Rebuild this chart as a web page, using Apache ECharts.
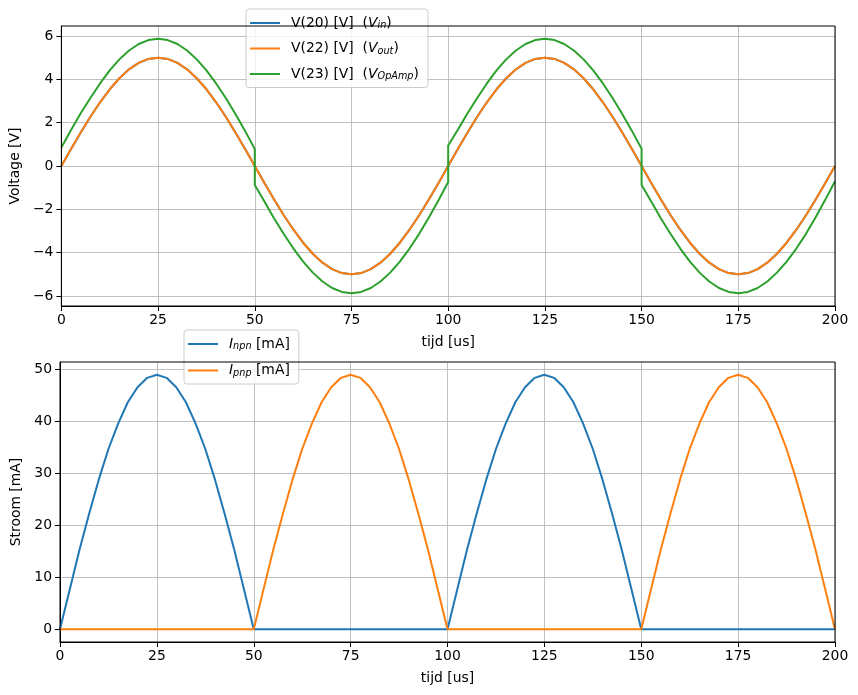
<!DOCTYPE html>
<html><head><meta charset="utf-8">
<script src="https://cdn.jsdelivr.net/npm/echarts@6/dist/echarts.min.js"></script>
<style>html,body{margin:0;padding:0;background:#fff}#c{width:858px;height:695px}</style>
</head><body><div id="c"></div>
<script>
// time axis [us]
var t = [0,2.5,5,7.5,10,12.5,15,17.5,20,22.5,25,27.5,30,32.5,35,37.5,40,42.5,45,47.5,50,
  52.5,55,57.5,60,62.5,65,67.5,70,72.5,75,77.5,80,82.5,85,87.5,90,92.5,95,97.5,100,
  102.5,105,107.5,110,112.5,115,117.5,120,122.5,125,127.5,130,132.5,135,137.5,140,142.5,145,147.5,150,
  152.5,155,157.5,160,162.5,165,167.5,170,172.5,175,177.5,180,182.5,185,187.5,190,192.5,195,197.5,200];
// V(20) input voltage
var vin = [0,0.78,1.55,2.27,2.94,3.54,4.05,4.46,4.76,4.94,5.00,4.94,4.76,4.46,4.05,3.54,2.94,2.27,1.55,0.78,0,
  -0.78,-1.55,-2.27,-2.94,-3.54,-4.05,-4.46,-4.76,-4.94,-5.00,-4.94,-4.76,-4.46,-4.05,-3.54,-2.94,-2.27,-1.55,-0.78,0,
  0.78,1.55,2.27,2.94,3.54,4.05,4.46,4.76,4.94,5.00,4.94,4.76,4.46,4.05,3.54,2.94,2.27,1.55,0.78,0,
  -0.78,-1.55,-2.27,-2.94,-3.54,-4.05,-4.46,-4.76,-4.94,-5.00,-4.94,-4.76,-4.46,-4.05,-3.54,-2.94,-2.27,-1.55,-0.78,0];
// V(22) output voltage
var vout = [0,0.78,1.55,2.27,2.94,3.54,4.05,4.46,4.76,4.94,5.00,4.94,4.76,4.46,4.05,3.54,2.94,2.27,1.55,0.78,0,
  -0.78,-1.55,-2.27,-2.94,-3.54,-4.05,-4.46,-4.76,-4.94,-5.00,-4.94,-4.76,-4.46,-4.05,-3.54,-2.94,-2.27,-1.55,-0.78,0,
  0.78,1.55,2.27,2.94,3.54,4.05,4.46,4.76,4.94,5.00,4.94,4.76,4.46,4.05,3.54,2.94,2.27,1.55,0.78,0,
  -0.78,-1.55,-2.27,-2.94,-3.54,-4.05,-4.46,-4.76,-4.94,-5.00,-4.94,-4.76,-4.46,-4.05,-3.54,-2.94,-2.27,-1.55,-0.78,0];
// V(23) opamp output (with jumps at the crossover)
var tOp = [0,2.5,5,7.5,10,12.5,15,17.5,20,22.5,25,27.5,30,32.5,35,37.5,40,42.5,45,47.5,50,
  50,52.5,55,57.5,60,62.5,65,67.5,70,72.5,75,77.5,80,82.5,85,87.5,90,92.5,95,97.5,100,
  100,102.5,105,107.5,110,112.5,115,117.5,120,122.5,125,127.5,130,132.5,135,137.5,140,142.5,145,147.5,150,
  150,152.5,155,157.5,160,162.5,165,167.5,170,172.5,175,177.5,180,182.5,185,187.5,190,192.5,195,197.5,200];
var vop = [0.85,1.66,2.43,3.14,3.81,4.41,4.92,5.33,5.63,5.81,5.87,5.81,5.63,5.33,4.92,4.41,3.81,3.14,2.40,1.62,0.78,
  -0.88,-1.64,-2.42,-3.14,-3.81,-4.41,-4.92,-5.33,-5.63,-5.81,-5.87,-5.81,-5.63,-5.33,-4.92,-4.41,-3.81,-3.13,-2.38,-1.58,-0.74,
  0.95,1.67,2.43,3.14,3.81,4.41,4.92,5.33,5.63,5.81,5.87,5.81,5.63,5.33,4.92,4.41,3.81,3.14,2.40,1.62,0.80,
  -0.88,-1.64,-2.42,-3.14,-3.81,-4.41,-4.92,-5.33,-5.63,-5.81,-5.87,-5.81,-5.63,-5.33,-4.92,-4.41,-3.81,-3.13,-2.36,-1.55,-0.70];
// currents [mA]
var inpn = [0,7.6,15.2,22.2,28.8,34.7,39.6,43.7,46.6,48.4,49.0,48.4,46.6,43.7,39.6,34.7,28.8,22.2,15.2,7.6,0,
  0,0,0,0,0,0,0,0,0,0,0,0,0,0,0,0,0,0,0,0,
  7.6,15.2,22.2,28.8,34.7,39.6,43.7,46.6,48.4,49.0,48.4,46.6,43.7,39.6,34.7,28.8,22.2,15.2,7.6,0,
  0,0,0,0,0,0,0,0,0,0,0,0,0,0,0,0,0,0,0,0];
var ipnp = [0,0,0,0,0,0,0,0,0,0,0,0,0,0,0,0,0,0,0,0,0,
  7.6,15.2,22.2,28.8,34.7,39.6,43.7,46.6,48.4,49.0,48.4,46.6,43.7,39.6,34.7,28.8,22.2,15.2,7.6,0,
  0,0,0,0,0,0,0,0,0,0,0,0,0,0,0,0,0,0,0,0,
  7.6,15.2,22.2,28.8,34.7,39.6,43.7,46.6,48.4,49.0,48.4,46.6,43.7,39.6,34.7,28.8,22.2,15.2,7.6,0];
var xTicks = [0,25,50,75,100,125,150,175,200];
var vTicks = [-6,-4,-2,0,2,4,6];
var iTicks = [0,10,20,30,40,50];

function pairs(xs, ys){ return xs.map(function(x,i){ return [x, ys[i]]; }); }
var FONT = 'DejaVu Sans';
var FS = 13.9;
var C = ['#1f77b4','#ff7f0e','#2ca02c'];
function fmt(v){ return String(v).replace('-', '\u2212'); }

function xAxis(idx){
  return {type:'value', gridIndex:idx, min:0, max:200,
    name:'tijd [us]', nameLocation:'middle', nameGap:29,
    nameTextStyle:{color:'#000', fontFamily:FONT, fontSize:FS},
    axisLine:{show:true, onZero:false, lineStyle:{color:'#000', width:1}},
    axisTick:{show:true, length:5, lineStyle:{color:'#000'}, customValues:xTicks},
    axisLabel:{color:'#000', fontFamily:FONT, fontSize:FS, margin:7, customValues:xTicks, formatter:fmt},
    splitLine:{show:true, lineStyle:{color:'#b0b0b0', width:0.8}}};
}
function yAxis(idx, mn, mx, ticks, name, gap){
  return {type:'value', gridIndex:idx, min:mn, max:mx,
    name:name, nameLocation:'middle', nameGap:gap, nameRotate:90,
    nameTextStyle:{color:'#000', fontFamily:FONT, fontSize:FS},
    axisLine:{show:true, onZero:false, lineStyle:{color:'#000', width:1}},
    axisTick:{show:true, length:5, lineStyle:{color:'#000'}, customValues:ticks},
    axisLabel:{color:'#000', fontFamily:FONT, fontSize:FS, margin:8, customValues:ticks, formatter:fmt},
    splitLine:{show:true, lineStyle:{color:'#b0b0b0', width:0.8}}};
}
function line(name, data, color, xi, yi){
  return {name:name, type:'line', xAxisIndex:xi, yAxisIndex:yi, data:data, showSymbol:false,
    symbol:'none', lineStyle:{color:color, width:2}, itemStyle:{color:color}, animation:false, silent:true};
}
var rich = {
  g:{fontFamily:FONT, fontSize:FS, width:6},
  it:{fontFamily:FONT, fontSize:FS, fontStyle:'italic', color:'#000'},
  sub:{fontFamily:FONT, fontSize:9.7, fontStyle:'italic', color:'#000', verticalAlign:'bottom', padding:[5,0,0,0]},
  n:{fontFamily:FONT, fontSize:FS, color:'#000'}
};
var legendLabels = {
  vin:'{g| }{n|V(20) [V]  (}{it|V}{sub|in}{n|)}',
  vout:'{g| }{n|V(22) [V]  (}{it|V}{sub|out}{n|)}',
  vop:'{g| }{n|V(23) [V]  (}{it|V}{sub|OpAmp}{n|)}',
  npn:'{g| }{it|I}{sub|npn}{n| [mA]}',
  pnp:'{g| }{it|I}{sub|pnp}{n| [mA]}'
};
function legend(names, left, top, gap){
  return {data:names, left:left, top:top, orient:'vertical', icon:'rect', itemWidth:30, itemHeight:2,
    itemGap:gap, padding:[7,9,6,4], backgroundColor:'rgba(255,255,255,0.8)', borderColor:'#cccccc',
    borderWidth:1, borderRadius:3, selectedMode:false,
    formatter:function(n){ return legendLabels[n]; },
    textStyle:{fontFamily:FONT, fontSize:FS, color:'#000', rich:rich}};
}
var chart = echarts.init(document.getElementById('c'), null, {renderer:'canvas'});
chart.setOption({
  animation:false,
  backgroundColor:'#fff',
  grid:[
    {left:60, right:23, top:26, height:280, show:true, borderColor:'#000', borderWidth:1, backgroundColor:'transparent', z:5},
    {left:60, right:23, top:362, height:280, show:true, borderColor:'#000', borderWidth:1, backgroundColor:'transparent', z:5}
  ],
  xAxis:[xAxis(0), xAxis(1)],
  yAxis:[yAxis(0, -6.46, 6.46, vTicks, 'Voltage [V]', 32), yAxis(1, -2.45, 51.45, iTicks, 'Stroom [mA]', 27)],
  legend:[legend(['vin','vout','vop'], 246, 9, 11), legend(['npn','pnp'], 184, 330, 12)],
  series:[
    line('vin', pairs(t, vin), C[0], 0, 0),
    line('vout', pairs(t, vout), C[1], 0, 0),
    line('vop', pairs(tOp, vop), C[2], 0, 0),
    line('npn', pairs(t, inpn), C[0], 1, 1),
    line('pnp', pairs(t, ipnp), C[1], 1, 1)
  ]
});
</script></body></html>
